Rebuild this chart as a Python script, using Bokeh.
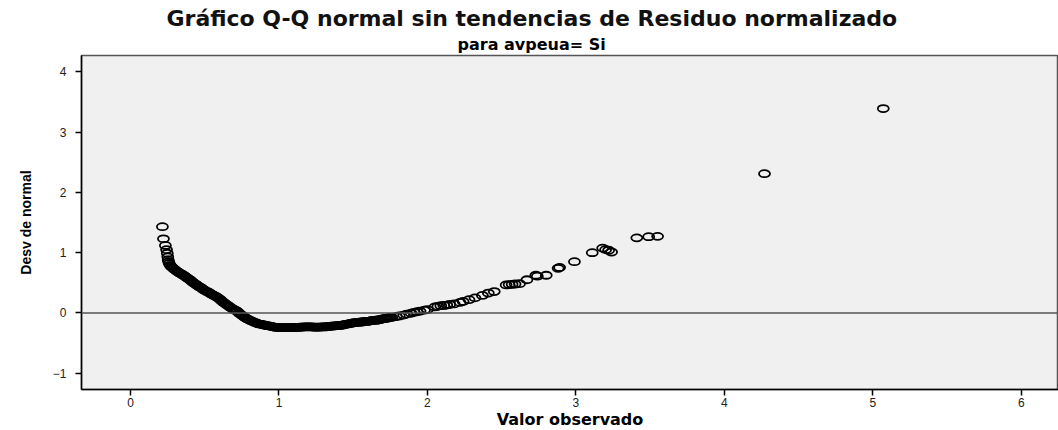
from bokeh.plotting import figure
from bokeh.models import ColumnDataSource, Span, Title, FixedTicker
from bokeh.embed import file_html
from bokeh.resources import INLINE

# ---- data ----
# left tail
tail_value = [0.215, 0.222, 0.235, 0.243, 0.248, 0.251, 0.254, 0.257, 0.261, 0.267,
              0.274, 0.283, 0.293, 0.303, 0.313, 0.323, 0.333, 0.343, 0.352]
tail_dev = [1.43, 1.23, 1.12, 1.05, 0.99, 0.93, 0.88, 0.85, 0.82, 0.79,
            0.77, 0.75, 0.73, 0.71, 0.69, 0.675, 0.66, 0.645, 0.63]

# dense body of the curve
body_value = [
    0.36, 0.37, 0.38, 0.39, 0.40, 0.41, 0.42, 0.43, 0.44, 0.45,
    0.46, 0.47, 0.48, 0.49, 0.50, 0.51, 0.52, 0.53, 0.54, 0.55,
    0.56, 0.57, 0.58, 0.59, 0.60, 0.61, 0.62, 0.63, 0.64, 0.65,
    0.66, 0.67, 0.68, 0.69, 0.70, 0.71, 0.72, 0.73, 0.74, 0.75,
    0.76, 0.77, 0.78, 0.79, 0.80, 0.81, 0.82, 0.83, 0.84, 0.85,
    0.86, 0.87, 0.88, 0.89, 0.90, 0.91, 0.92, 0.93, 0.94, 0.95,
    0.96, 0.97, 0.98, 0.99, 1.00, 1.01, 1.02, 1.03, 1.04, 1.05,
    1.06, 1.07, 1.08, 1.09, 1.10, 1.11, 1.12, 1.13, 1.14, 1.15,
    1.16, 1.17, 1.18, 1.19, 1.20, 1.21, 1.22, 1.23, 1.24, 1.25,
    1.26, 1.27, 1.28, 1.29, 1.30, 1.31, 1.32, 1.33, 1.34, 1.35,
    1.36, 1.37, 1.38, 1.39, 1.40, 1.41, 1.42, 1.43, 1.44, 1.45,
    1.46, 1.47, 1.48, 1.49, 1.50, 1.51, 1.52, 1.53, 1.54, 1.55,
    1.56, 1.57, 1.58, 1.59, 1.60, 1.61, 1.62, 1.63, 1.64, 1.65,
    1.66, 1.67, 1.68, 1.69, 1.70, 1.71, 1.72, 1.73, 1.74, 1.75,
    1.76,
]
body_dev = [
    0.62, 0.60, 0.585, 0.565, 0.55, 0.53, 0.51, 0.49, 0.475, 0.455,
    0.44, 0.425, 0.41, 0.39, 0.375, 0.36, 0.35, 0.335, 0.32, 0.305,
    0.29, 0.28, 0.265, 0.25, 0.23, 0.21, 0.185, 0.17, 0.15, 0.13,
    0.115, 0.10, 0.08, 0.065, 0.05, 0.04, 0.025, 0.00, -0.02, -0.04,
    -0.055, -0.075, -0.09, -0.105, -0.115, -0.13, -0.14, -0.15, -0.16, -0.17,
    -0.18, -0.185, -0.19, -0.195, -0.20, -0.205, -0.21, -0.215, -0.22, -0.225,
    -0.23, -0.235, -0.24, -0.24, -0.245, -0.245, -0.245, -0.245, -0.245, -0.245,
    -0.245, -0.245, -0.245, -0.245, -0.24, -0.24, -0.24, -0.24, -0.235, -0.235,
    -0.235, -0.23, -0.23, -0.23, -0.23, -0.23, -0.23, -0.235, -0.235, -0.235,
    -0.235, -0.235, -0.235, -0.23, -0.23, -0.23, -0.23, -0.225, -0.225, -0.22,
    -0.22, -0.215, -0.215, -0.21, -0.21, -0.205, -0.205, -0.20, -0.195, -0.19,
    -0.185, -0.18, -0.175, -0.17, -0.165, -0.16, -0.16, -0.155, -0.155, -0.15,
    -0.15, -0.145, -0.145, -0.14, -0.14, -0.135, -0.13, -0.125, -0.125, -0.12,
    -0.12, -0.115, -0.11, -0.105, -0.10, -0.095, -0.09, -0.085, -0.08, -0.075,
    -0.075,
]

# upper part and outliers
upper_value = [
    1.79, 1.81, 1.84, 1.86, 1.89, 1.91, 1.93, 1.95, 1.98, 2.00,
    2.05, 2.07, 2.09, 2.11, 2.13, 2.15, 2.18, 2.22, 2.24, 2.28,
    2.32, 2.37, 2.41, 2.45, 2.53, 2.55, 2.57, 2.59, 2.62, 2.67,
    2.73, 2.74, 2.80, 2.88, 2.89, 2.99, 3.11, 3.18, 3.20, 3.22,
    3.24, 3.41, 3.49, 3.55, 4.27, 5.07,
]
upper_dev = [
    -0.06, -0.05, -0.035, -0.02, -0.005, 0.01, 0.02, 0.03, 0.045, 0.055,
    0.10, 0.11, 0.12, 0.125, 0.13, 0.14, 0.15, 0.175, 0.19, 0.22,
    0.25, 0.29, 0.33, 0.355, 0.465, 0.47, 0.475, 0.48, 0.485, 0.55,
    0.625, 0.61, 0.625, 0.74, 0.755, 0.85, 1.00, 1.075, 1.05, 1.04,
    1.01, 1.245, 1.265, 1.27, 2.31, 3.39,
]

x_ticks = [0, 1, 2, 3, 4, 5, 6]
y_ticks = [-1, 0, 1, 2, 3, 4]

title_text = "Gráfico Q-Q normal sin tendencias de Residuo normalizado"
subtitle_text = "para avpeua= Si"
x_label = "Valor observado"
y_label = "Desv de normal"

src = ColumnDataSource(data=dict(
    x=tail_value + body_value + upper_value,
    y=tail_dev + body_dev + upper_dev,
))

p = figure(
    frame_width=977, frame_height=334,
    x_range=(-0.33, 6.25), y_range=(-1.27, 4.27),
    output_backend="svg", toolbar_location=None,
    min_border_left=81, min_border_right=0, min_border_top=55, min_border_bottom=30,
    background_fill_color="#f0f0f0", border_fill_color="white",
)
p.title.visible = False

sub = Title(text=subtitle_text, align="left", offset=376,
            text_font="DejaVu Sans", text_font_style="bold",
            text_font_size="16px", text_color="black", standoff=3)
main = Title(text=title_text, align="left", offset=85,
             text_font="DejaVu Sans", text_font_style="bold",
             text_font_size="22px", text_color="#111111", standoff=2)
p.add_layout(sub, "above")
p.add_layout(main, "above")

p.xgrid.visible = False
p.ygrid.visible = False
p.outline_line_color = "#555555"
p.outline_line_width = 1.5

for ax in (p.xaxis[0], p.yaxis[0]):
    ax.axis_line_color = "black"
    ax.axis_line_width = 1.5
    ax.major_tick_line_color = "black"
    ax.major_tick_line_width = 1.5
    ax.major_tick_out = 6
    ax.major_tick_in = 0
    ax.minor_tick_out = 0
    ax.minor_tick_in = 0
    ax.major_label_text_font = "Liberation Sans"
    ax.major_label_text_font_size = "12px"
    ax.major_label_text_color = "#222222"
    ax.axis_label_text_font_style = "bold"
    ax.axis_label_text_color = "black"

p.xaxis[0].ticker = FixedTicker(ticks=x_ticks)
p.yaxis[0].ticker = FixedTicker(ticks=y_ticks)
p.xaxis[0].axis_label = x_label
p.xaxis[0].axis_label_text_font = "DejaVu Sans"
p.xaxis[0].axis_label_text_font_size = "16px"
p.xaxis[0].major_label_standoff = 2
p.xaxis[0].axis_label_standoff = 0

p.yaxis[0].axis_label = y_label
p.yaxis[0].axis_label_text_font = "Liberation Sans"
p.yaxis[0].axis_label_text_font_size = "14px"
p.yaxis[0].major_label_standoff = 9
p.yaxis[0].axis_label_standoff = 16

p.add_layout(Span(location=0, dimension="width", line_color="#555555", line_width=1.5))

p.ellipse(x="x", y="y", width=11, height=7, width_units="screen", height_units="screen",
          fill_color=None, line_color="black", line_width=1.8, source=src)

open("out.html", "w").write(file_html(p, INLINE))
